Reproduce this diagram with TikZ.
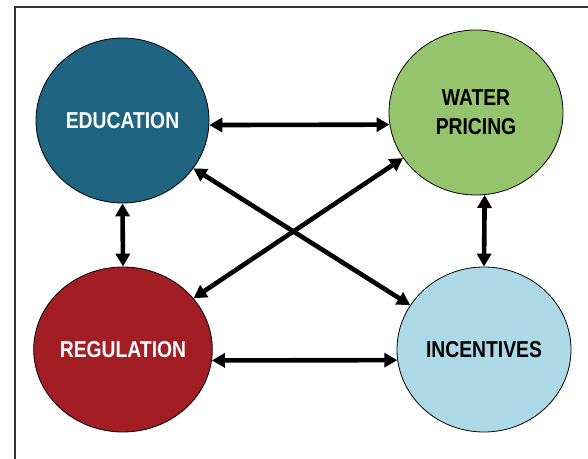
\documentclass[tikz,border=0pt]{standalone}
\usepackage{fontspec}
\newfontfamily\labfont{Liberation Sans}[FakeStretch=0.84]
\usetikzlibrary{shapes.geometric,arrows.meta}
\definecolor{edublue}{HTML}{1F6480}
\definecolor{watgreen}{HTML}{95C46C}
\definecolor{regred}{HTML}{A31D24}
\definecolor{incblue}{HTML}{ADD8E6}
\definecolor{framegray}{HTML}{333333}
\tikzset{
  circ/.style={ellipse, draw=black, line width=0.8pt, inner sep=0pt,
    minimum height=165pt, align=center,
    font=\labfont\bfseries\fontsize{23}{28.7}\selectfont},
  link/.style={line width=4.6pt, draw=black,
    {Triangle[length=13pt,width=14pt]}-{Triangle[length=13pt,width=14pt]}}
}
\begin{document}
\begin{tikzpicture}[x=1pt,y=1pt]
\useasboundingbox (0,0) rectangle (588,458);
\draw[framegray, line width=2pt] (15,-5) |- (595,451);
\node[circ, fill=edublue, text=white, minimum width=173pt] (edu) at (122.5,337.5) {EDUCATION};
\node[circ, fill=watgreen, text=black, minimum width=174pt] (wat) at (476,345.5) {WATER\\PRICING};
\node[circ, fill=regred, text=white, minimum width=172pt] (reg) at (123,108.5) {REGULATION};
\node[circ, fill=incblue, text=black, minimum width=174pt] (inc) at (484,108.5) {INCENTIVES};
\draw[link] (edu.-3) -- (wat.188);
\draw[link] (reg.-7) -- (inc.187);
\draw[link] (edu.south) -- (reg.north);
\draw[link] (wat.-84.4) -- (inc.north);
\draw[link] (edu.-34) -- (inc.149);
\draw[link] (wat.-148) -- (reg.36);
\end{tikzpicture}
\end{document}
